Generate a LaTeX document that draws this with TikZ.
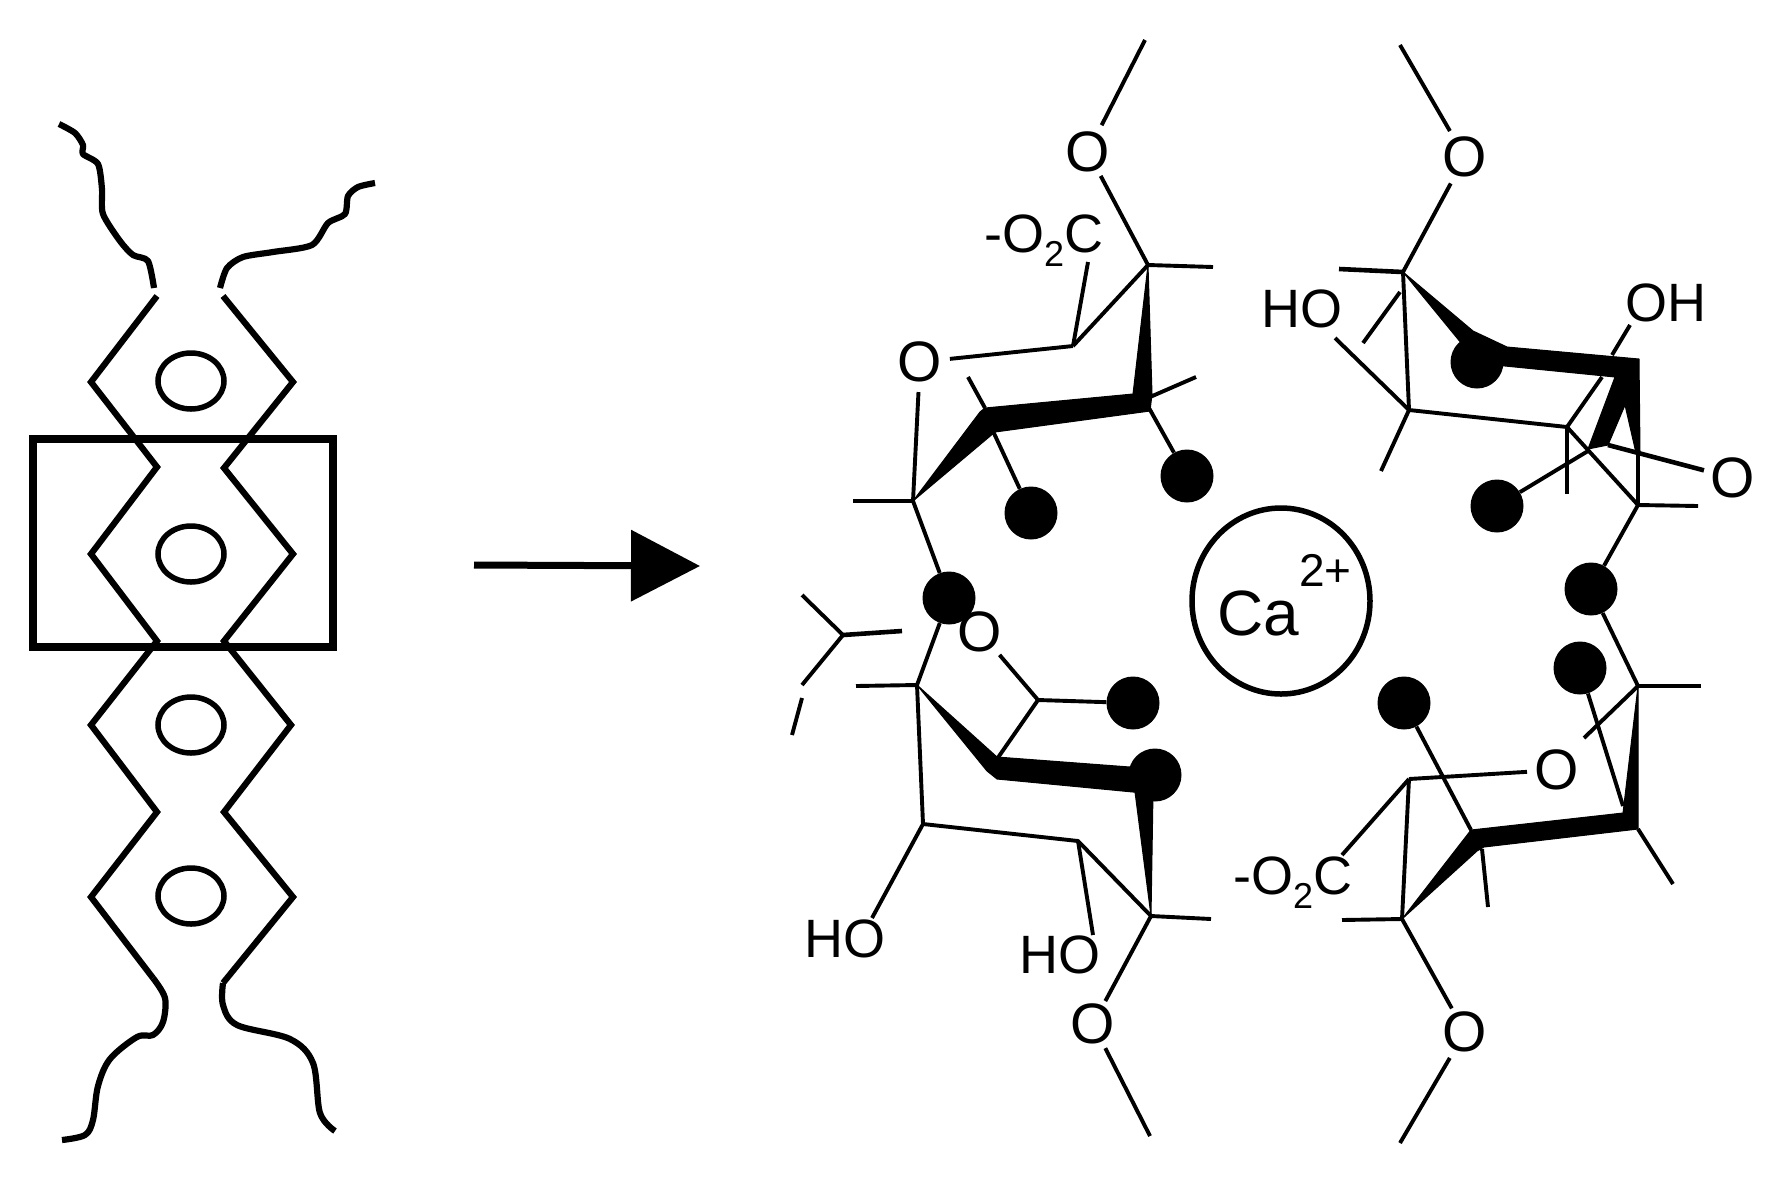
\documentclass[tikz,border=0pt]{standalone}
\usepackage{fontspec}
\setmainfont{Liberation Sans}
\usetikzlibrary{arrows.meta,shapes.geometric}
\tikzset{
  bond/.style={line width=3.9pt,line cap=butt,line join=round},
  bondw/.style={line width=4.6pt,line cap=butt,line join=round},
  wedge/.style={fill=black,draw=black,line width=1pt,line join=round},
  chain/.style={line width=6.2pt,line join=miter,line cap=butt},
  tail/.style={line width=6.2pt,line join=round,line cap=butt},
  cav/.style={draw=black,line width=5.5pt,ellipse,inner sep=0pt,minimum width=66pt,minimum height=56pt},
  dot/.style={circle,fill=black,inner sep=0pt,minimum size=53pt},
  oxy/.style={circle,inner sep=0pt,minimum size=56pt,font=\fontsize{57}{57}\selectfont},
  lab/.style={inner sep=0pt,font=\fontsize{54}{54}\selectfont},
}
\newcommand{\subtwo}{\raisebox{-0.26em}{\fontsize{36}{36}\selectfont 2}}
\begin{document}
\begin{tikzpicture}[x=1pt,y=-1pt]
\useasboundingbox (0,0) rectangle (1779,1179);
% ---------- left schematic ----------
\draw[line width=7.5pt,line join=miter] (33,439) rectangle (333,647);
\draw[chain] (157,296)--(91,382)--(157,467)--(91,554)--(157,641)--(91,725)--(157,812)--(91,897)--(153,978);
\draw[chain] (223,296)--(293,382)--(224,468)--(293,554)--(224,641)--(291,725)--(224,812)--(293,897)--(223,983);
\draw[tail] plot[smooth,tension=0.45] coordinates {(59,124)(75,133)(83,145)(83,154)(98,164)(102,189)(103,214)(120,241)(133,255)(148,261)(154,288)};
\draw[tail] plot[smooth,tension=0.45] coordinates {(375,183)(358,187)(348,196)(345,214)(328,223)(312,245)(273,252)(243,257)(227,268)(220,288)};
\draw[tail] plot[smooth,tension=0.55] coordinates {(153,978)(165,998)(163,1022)(153,1035)(137,1037)(110,1059)(98,1086)(93,1120)(85,1135)(62,1140)};
\draw[tail] plot[smooth,tension=0.55] coordinates {(223,983)(223,1005)(237,1025)(290,1039)(313,1063)(320,1113)(335,1131)};
\node[cav] (cav1) at (191,381) {};
\node[cav] (cav2) at (191,554) {};
\node[cav] (cav3) at (191,725) {};
\node[cav] (cav4) at (191,896) {};
% ---------- arrow ----------
\coordinate (arrA) at (474,565);
\coordinate (arrB) at (700,566);
\draw[line width=7pt,-{Triangle[length=69pt,width=70pt]}] (arrA) -- (arrB);
% ---------- calcium ----------
\node[draw=black,line width=5.5pt,ellipse,inner sep=0pt,minimum width=178pt,minimum height=186pt] (ring) at (1281,601) {};
\node[inner sep=0pt,anchor=base west,font=\fontsize{64}{64}\selectfont] (ca) at (1217,635) {Ca};
\node[inner sep=0pt,anchor=base west,font=\fontsize{46}{46}\selectfont] (chg) at (1299,586) {2+};
% ---------- dots ----------
\node[dot] (d1) at (1031,513) {};
\node[dot] (d2) at (1187,476) {};
\node[dot] (d3) at (949,598) {};
\node[dot] (d4) at (1133,703) {};
\node[dot] (d5) at (1155,775) {};
\node[dot] (d6) at (1477,362) {};
\node[dot] (d7) at (1497,506) {};
\node[dot] (d8) at (1591,589) {};
\node[dot] (d9) at (1580,668) {};
\node[dot] (d10) at (1404,703) {};
% ---------- oxygen and other labels ----------
\node[oxy] (o1) at (1088,152) {O};
\node[oxy] (o2) at (920,362) {O};
\node[oxy] (o3) at (980,632) {O};
\node[oxy] (o4) at (1093,1024) {O};
\node[oxy] (o5) at (1465,157) {O};
\node[oxy] (o6) at (1733,478) {O};
\node[oxy] (o7) at (1557,770) {O};
\node[oxy] (o8) at (1465,1032) {O};
\node[lab,anchor=base west] (co1) at (984,252) {-O\subtwo C};
\node[lab,anchor=base west] (co2) at (1233,894) {-O\subtwo C};
\node[lab] (ho1) at (1302,309) {HO};
\node[lab] (oh1) at (1666,303) {OH};
\node[lab] (ho2) at (845,939) {HO};
\node[lab] (ho3) at (1060,955) {HO};
% ---------- named atoms and free bond ends ----------
\coordinate (a1) at (1148,265); \coordinate (a2) at (1073,346); \coordinate (a3) at (913,501);
\coordinate (a4) at (985,408); \coordinate (a5) at (992,429); \coordinate (a6) at (1149,408);
\coordinate (a7) at (1150,397);
\coordinate (t1) at (1145,40); \coordinate (t2) at (1213,267); \coordinate (t3) at (1088,262);
\coordinate (t4) at (853,501); \coordinate (t5) at (968,377); \coordinate (t6) at (1196,377);
\coordinate (b1) at (917,685); \coordinate (b2) at (923,824); \coordinate (b3) at (1078,841);
\coordinate (b4) at (1151,916); \coordinate (b5) at (1038,700); \coordinate (b6) at (997,759);
\coordinate (u1) at (856,686); \coordinate (u2) at (1211,919); \coordinate (u3) at (872,918);
\coordinate (u4) at (1093,935); \coordinate (u5) at (1150,1136);
\coordinate (y0) at (843,635); \coordinate (y1) at (802,595); \coordinate (y2) at (902,631);
\coordinate (y3) at (802,685); \coordinate (y4) at (802,698); \coordinate (y5) at (792,735);
\coordinate (c1) at (1403,272); \coordinate (c2) at (1409,410); \coordinate (c3) at (1567,427);
\coordinate (c4) at (1638,505); \coordinate (c5) at (1588,451); \coordinate (c6) at (1608,445);
\coordinate (c7) at (1638,453);
\coordinate (v1) at (1400,45); \coordinate (v2) at (1339,269); \coordinate (v3) at (1400,292);
\coordinate (v4) at (1363,343); \coordinate (v5) at (1335,338); \coordinate (v6) at (1381,471);
\coordinate (v7) at (1602,377); \coordinate (v8) at (1630,325); \coordinate (v9) at (1612,355);
\coordinate (v10) at (1567,494); \coordinate (v11) at (1698,506);
\coordinate (e1) at (1638,686); \coordinate (e2) at (1584,738); \coordinate (e3) at (1701,686);
\coordinate (e4) at (1623,806); \coordinate (e5) at (1638,829); \coordinate (e6) at (1673,884);
\coordinate (e7) at (1409,779); \coordinate (e8) at (1402,919); \coordinate (e9) at (1471,830);
\coordinate (e10) at (1482,849); \coordinate (e11) at (1488,907); \coordinate (e12) at (1342,920);
\coordinate (e13) at (1400,1143); \coordinate (e14) at (1342,855);
% ---------- residue 1 (top left) ----------
\fill[wedge] (a3) -- (980,412) -- (985,408) -- (1133,394) -- (a1) -- (1152,394) -- (1150,411) -- (995,432) -- cycle;
\draw[bond] (t1) -- (o1);
\draw[bond,shorten <=-3pt] (o1) -- (a1);
\draw[bond] (a1) -- (t2);
\draw[bond] (t3) -- (a2);
\draw[bond] (a1) -- (a2);
\draw[bond] (o2) -- (a2);
\draw[bond] (o2) -- (a3);
\draw[bond] (a3) -- (t4);
\draw[bond] (t5) -- (a4);
\draw[bond] (a5) -- (d1);
\draw[bond] (a6) -- (d2);
\draw[bond] (a7) -- (t6);
\draw[bond] (a3) -- (d3);
% ---------- residue 2 (bottom left) ----------
\fill[wedge] (b1) -- (987,771) -- (997,779) -- (1133,792) -- (1135,792) -- (b4) -- (1153,792) -- (1155,775) -- (1130,767) -- (997,757) -- cycle;
\draw[bond] (y1) -- (y0) -- (y3);
\draw[bondw] (y0) -- (y2);
\draw[bond] (y4) -- (y5);
\draw[bond] (b1) -- (u1);
\draw[bond] (b1) -- (d3);
\draw[bond] (b1) -- (b2);
\draw[bond] (b2) -- (b3) -- (b4);
\draw[bond] (b4) -- (u2);
\draw[bond] (b3) -- (u4);
\draw[bond] (b2) -- (u3);
\draw[bond] (o3) -- (b5);
\draw[bond] (b5) -- (b6);
\draw[bond] (b5) -- (d4);
\draw[bond,shorten >=-4pt] (b4) -- (o4);
\draw[bond,shorten <=-3pt] (o4) -- (u5);
% ---------- residue 3 (top right) ----------
\fill[wedge] (c1) -- (1473,331) -- (1507,347) -- (1639,359) -- (1640,453) -- (1636,453) -- (1625,405) -- (1608,445) -- (1588,449) -- (1615,377) -- (1505,366) -- (1477,362) -- (1457,338) -- cycle;
\draw[bond] (v1) -- (o5);
\draw[bond] (o5) -- (c1);
\draw[bondw] (c1) -- (v2);
\draw[bond] (v3) -- (v4);
\draw[bond] (c1) -- (c2);
\draw[bond] (v5) -- (c2);
\draw[bond] (c2) -- (v6);
\draw[bond] (c2) -- (c3);
\draw[bond] (v7) -- (c3);
\draw[bond] (v8) -- (v9);
\draw[bond] (c3) -- (v10);
\draw[bond] (c3) -- (c4);
\draw[bond] (c7) -- (c4);
\draw[bond] (d7) -- (c5);
\draw[bondw] (c6) -- (o6);
\draw[bond] (c4) -- (v11);
\draw[bond] (c4) -- (d8);
% ---------- residue 4 (bottom right) ----------
\fill[wedge] (e8) -- (e9) -- (1623,813) -- (e1) -- (e5) -- (1484,847) -- (1477,851) -- cycle;
\draw[bond] (d8) -- (e1);
\draw[bond] (e1) -- (e3);
\draw[bond] (e1) -- (e2);
\draw[bond] (d9) -- (e4);
\draw[bond] (e5) -- (e6);
\draw[bond] (o7) -- (e7);
\draw[bond] (e7) -- (e14);
\draw[bond] (e7) -- (e8);
\draw[bond] (d10) -- (e9);
\draw[bond] (e10) -- (e11);
\draw[bond] (e8) -- (e12);
\draw[bond,shorten >=-3pt] (e8) -- (o8);
\draw[bond] (o8) -- (e13);
\end{tikzpicture}
\end{document}
